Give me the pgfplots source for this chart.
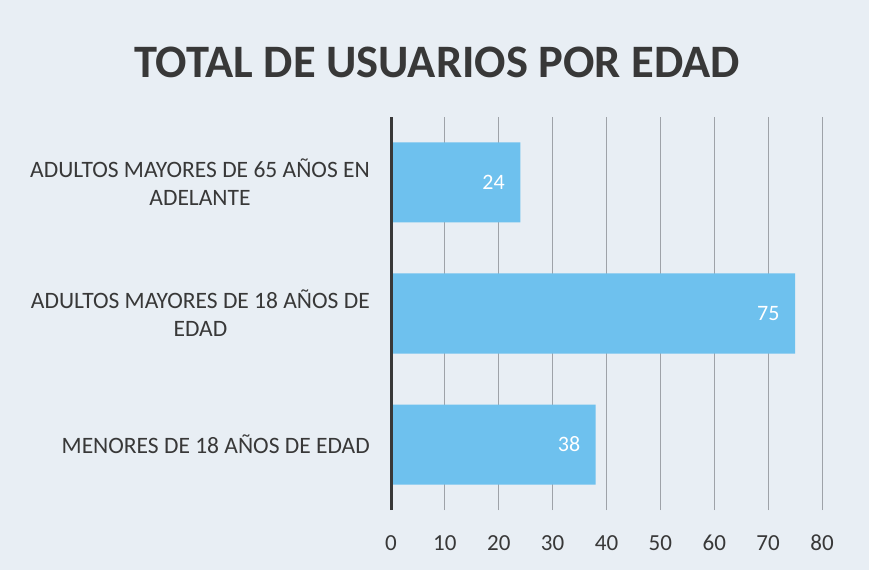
\documentclass[border=0pt]{standalone}
\usepackage{fontspec}
\setmainfont{Carlito}
\usepackage{pgfplots}
\pgfplotsset{compat=1.18}
\definecolor{bg}{HTML}{E8EEF4}
\definecolor{barc}{HTML}{6EC1EE}
\definecolor{txt}{HTML}{383838}
\definecolor{gridc}{HTML}{9EA2A8}
\begin{document}
\begin{tikzpicture}[x=1pt,y=1pt]
\fill[bg] (-391,-60) rectangle (478,510);
\node[font=\fontsize{46.5}{52}\selectfont\bfseries, text=txt, anchor=center] at (46,448) {TOTAL DE USUARIOS POR EDAD};
\begin{axis}[
  at={(0,0)}, anchor=south west,
  scale only axis, width=431pt, height=393pt,
  xbar, bar width=80pt,
  xmin=0, xmax=80, ymin=-0.5, ymax=2.5,
  axis line style={draw=none},
  xtick={0,10,...,80},
  ytick={0,1,2},
  yticklabels={MENORES DE 18 AÑOS DE EDAD,{ADULTOS MAYORES DE 18 AÑOS DE\\EDAD},{ADULTOS MAYORES DE 65 AÑOS EN\\ADELANTE}},
  major tick length=0pt,
  xmajorgrids, major grid style={gridc, line width=0.9pt},
  /pgf/number format/assume math mode=true,
  tick label style={text=txt, inner sep=0pt},
  xticklabel style={anchor=center, yshift=-33pt, font=\fontsize{23}{27}\selectfont},
  yticklabel style={anchor=east, align=center, xshift=-21pt, font=\fontsize{23.5}{28}\selectfont},
  nodes near coords,
  nodes near coords style={anchor=east, text=white, font=\fontsize{22}{26}\selectfont, xshift=-12pt},
]
\addplot[fill=barc, draw=none] coordinates {(38,0) (75,1) (24,2)};
\end{axis}
\draw[line width=3pt, txt] (0,0) -- (0,393);
\end{tikzpicture}
\end{document}
